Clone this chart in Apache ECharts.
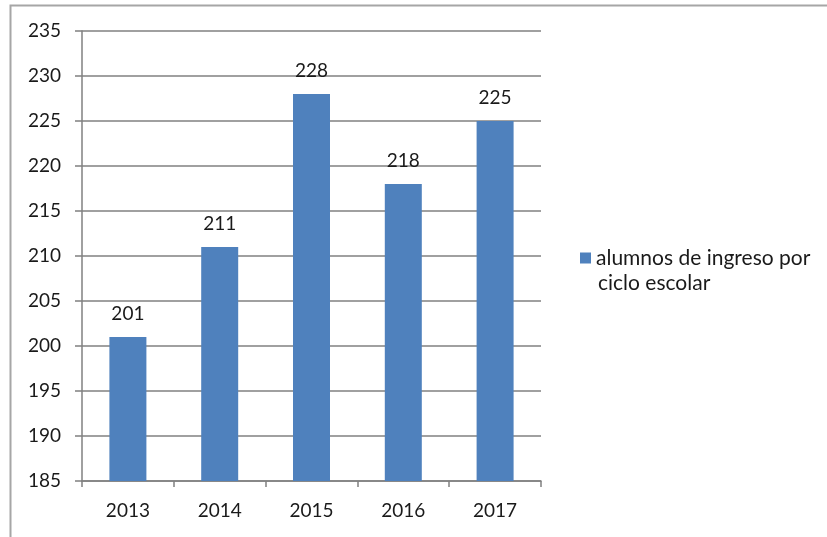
<!DOCTYPE html>
<html>
<head>
<meta charset="utf-8">
<script src="https://cdn.jsdelivr.net/npm/echarts@6/dist/echarts.min.js"></script>
<style>
html,body{margin:0;padding:0;background:#fff;}
#c{width:827px;height:537px;}
</style>
</head>
<body>
<div id="c"></div>
<script>
var categories = ['2013', '2014', '2015', '2016', '2017'];
var values = [201, 211, 228, 218, 225];
var seriesName = 'alumnos de ingreso por ciclo escolar';
var legendLines = ['alumnos de ingreso por', 'ciclo escolar'];
var yMin = 185, yMax = 235, yStep = 5;

var chart = echarts.init(document.getElementById('c'), null, {renderer: 'canvas'});
var font = 'Lato';
var legendFontSize = 21;
chart.setOption({
  animation: false,
  backgroundColor: '#ffffff',
  graphic: [{
    type: 'polyline',
    shape: {points: [[10.5, 540], [10.5, 5.5], [830, 5.5]]},
    style: {stroke: '#a6a6a6', lineWidth: 2, fill: null},
    silent: true
  }, {
    type: 'text',
    left: 598,
    top: 273,
    style: {text: legendLines[1], font: legendFontSize + 'px ' + font, fill: '#1a1a1a'},
    silent: true
  }],
  grid: {left: 82, right: 286, top: 31, bottom: 56, containLabel: false},
  legend: {
    show: true,
    left: 575,
    top: 240,
    orient: 'vertical',
    icon: 'rect',
    itemWidth: 11,
    itemHeight: 11,
    itemGap: 6,
    formatter: function () { return legendLines[0]; },
    textStyle: {fontFamily: font, fontSize: legendFontSize, color: '#1a1a1a', lineHeight: 26},
    data: [seriesName]
  },
  xAxis: {
    type: 'category',
    data: categories,
    boundaryGap: true,
    axisLine: {show: true, lineStyle: {color: '#808080', width: 1.5}},
    axisTick: {show: true, length: 6, lineStyle: {color: '#808080', width: 1.5}},
    axisLabel: {fontFamily: font, fontSize: 19, color: '#1a1a1a', margin: 20}
  },
  yAxis: {
    type: 'value',
    min: yMin,
    max: yMax,
    interval: yStep,
    axisLine: {show: true, lineStyle: {color: '#808080', width: 1.5}},
    axisTick: {show: true, length: 7, lineStyle: {color: '#808080', width: 1.5}},
    splitLine: {show: true, lineStyle: {color: '#808080', width: 1.5}},
    axisLabel: {fontFamily: font, fontSize: 19, color: '#1a1a1a', margin: 21}
  },
  series: [{
    name: seriesName,
    type: 'bar',
    data: values,
    barWidth: 37,
    itemStyle: {color: '#4f81bd'},
    label: {show: true, position: 'top', distance: 14, fontFamily: font, fontSize: 19, color: '#1a1a1a'}
  }]
});
</script>
</body>
</html>
